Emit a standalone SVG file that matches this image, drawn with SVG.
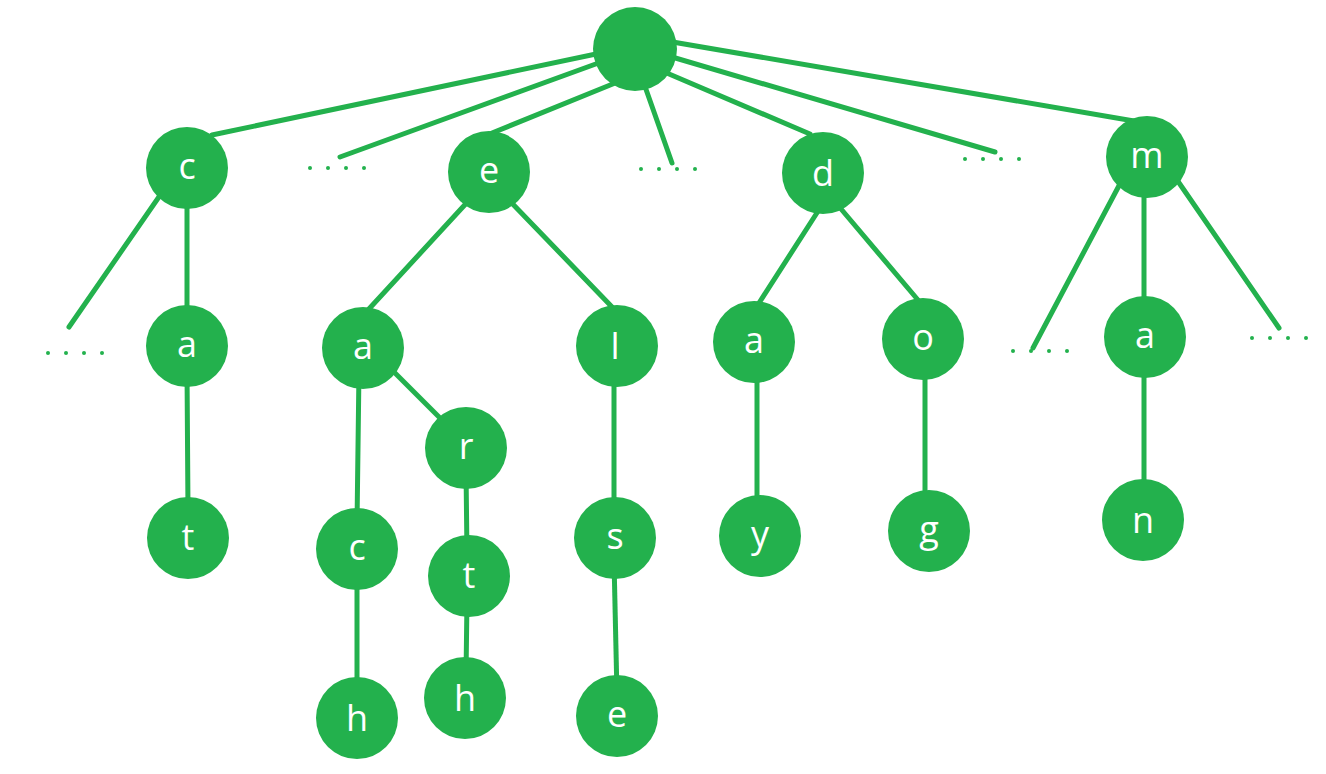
<svg xmlns="http://www.w3.org/2000/svg" width="1326" height="774" viewBox="0 0 1326 774">
<style>
.n{fill:#23B14D}
.e{stroke:#23B14D;stroke-width:5;stroke-linecap:round;fill:none}
.t{fill:#fff;font-family:"Open Sans","Noto Sans",sans-serif;font-size:36px;text-anchor:middle}
.d{fill:#23B14D}
</style>
<rect width="1326" height="774" fill="#fff"/>
<g id="connectors">
<line class="e" x1="615" y1="50" x2="212" y2="135"/>
<line class="e" x1="615" y1="57" x2="340" y2="157"/>
<line class="e" x1="625" y1="79" x2="492" y2="133"/>
<line class="e" x1="642" y1="78" x2="672" y2="163"/>
<line class="e" x1="655" y1="68" x2="810" y2="134"/>
<line class="e" x1="655" y1="52" x2="995" y2="152"/>
<line class="e" x1="655" y1="39" x2="1134" y2="121"/>
<line class="e" x1="163" y1="191" x2="69" y2="327"/>
<line class="e" x1="187" y1="190" x2="187" y2="320"/>
<line class="e" x1="187" y1="370" x2="188" y2="510"/>
<line class="e" x1="472" y1="197" x2="368" y2="310"/>
<line class="e" x1="506" y1="197" x2="613" y2="308"/>
<line class="e" x1="385" y1="363" x2="440" y2="418"/>
<line class="e" x1="359" y1="370" x2="357" y2="525"/>
<line class="e" x1="357" y1="570" x2="357" y2="695"/>
<line class="e" x1="466" y1="470" x2="467" y2="555"/>
<line class="e" x1="467" y1="600" x2="466" y2="675"/>
<line class="e" x1="614" y1="370" x2="614" y2="515"/>
<line class="e" x1="614" y1="560" x2="617" y2="695"/>
<line class="e" x1="822" y1="205" x2="759" y2="303"/>
<line class="e" x1="836" y1="203" x2="918" y2="300"/>
<line class="e" x1="757" y1="365" x2="757" y2="515"/>
<line class="e" x1="925" y1="362" x2="925" y2="510"/>
<line class="e" x1="1122" y1="180" x2="1033" y2="348"/>
<line class="e" x1="1144" y1="180" x2="1144" y2="315"/>
<line class="e" x1="1144" y1="360" x2="1144" y2="500"/>
<line class="e" x1="1175" y1="177" x2="1279" y2="328"/>
</g>
<g id="dots">
<circle class="d" cx="48" cy="353" r="2"/><circle class="d" cx="66" cy="353" r="2"/><circle class="d" cx="84" cy="353" r="2"/><circle class="d" cx="102" cy="353" r="2"/>
<circle class="d" cx="310" cy="168" r="2"/><circle class="d" cx="328" cy="168" r="2"/><circle class="d" cx="346" cy="168" r="2"/><circle class="d" cx="364" cy="168" r="2"/>
<circle class="d" cx="641" cy="169" r="2"/><circle class="d" cx="659" cy="169" r="2"/><circle class="d" cx="677" cy="169" r="2"/><circle class="d" cx="695" cy="169" r="2"/>
<circle class="d" cx="965" cy="159" r="2"/><circle class="d" cx="983" cy="159" r="2"/><circle class="d" cx="1001" cy="159" r="2"/><circle class="d" cx="1019" cy="159" r="2"/>
<circle class="d" cx="1013" cy="351" r="2"/><circle class="d" cx="1031" cy="351" r="2"/><circle class="d" cx="1049" cy="351" r="2"/><circle class="d" cx="1067" cy="351" r="2"/>
<circle class="d" cx="1252" cy="338" r="2"/><circle class="d" cx="1270" cy="338" r="2"/><circle class="d" cx="1288" cy="338" r="2"/><circle class="d" cx="1306" cy="338" r="2"/>
</g>
<g id="root"><circle class="n" cx="635" cy="49" r="42"/></g>
<g id="n-c"><circle class="n" cx="187" cy="168" r="41"/><text class="t" x="187" y="179">c</text></g>
<g id="n-ca"><circle class="n" cx="187" cy="346" r="41"/><text class="t" x="187" y="357">a</text></g>
<g id="n-cat"><circle class="n" cx="188" cy="538" r="41"/><text class="t" x="188" y="550">t</text></g>
<g id="n-e"><circle class="n" cx="489" cy="172" r="41"/><text class="t" x="489" y="183">e</text></g>
<g id="n-ea"><circle class="n" cx="363" cy="348" r="41"/><text class="t" x="363" y="359">a</text></g>
<g id="n-ear"><circle class="n" cx="466" cy="448" r="41"/><text class="t" x="466" y="459">r</text></g>
<g id="n-eart"><circle class="n" cx="469" cy="576" r="41"/><text class="t" x="469" y="588">t</text></g>
<g id="n-earth"><circle class="n" cx="465" cy="698" r="41"/><text class="t" x="465" y="711">h</text></g>
<g id="n-eac"><circle class="n" cx="357" cy="549" r="41"/><text class="t" x="357" y="560">c</text></g>
<g id="n-each"><circle class="n" cx="357" cy="718" r="41"/><text class="t" x="357" y="731">h</text></g>
<g id="n-el"><circle class="n" cx="617" cy="346" r="41"/><text class="t" x="615" y="359">l</text></g>
<g id="n-els"><circle class="n" cx="615" cy="538" r="41"/><text class="t" x="615" y="549">s</text></g>
<g id="n-else"><circle class="n" cx="617" cy="716" r="41"/><text class="t" x="617" y="727">e</text></g>
<g id="n-d"><circle class="n" cx="823" cy="173" r="41"/><text class="t" x="823" y="186">d</text></g>
<g id="n-da"><circle class="n" cx="754" cy="342" r="41"/><text class="t" x="754" y="353">a</text></g>
<g id="n-day"><circle class="n" cx="760" cy="536" r="41"/><text class="t" x="760" y="547">y</text></g>
<g id="n-do"><circle class="n" cx="923" cy="339" r="41"/><text class="t" x="923" y="350">o</text></g>
<g id="n-dog"><circle class="n" cx="929" cy="531" r="41"/><text class="t" x="929" y="542">g</text></g>
<g id="n-m"><circle class="n" cx="1147" cy="157" r="41"/><text class="t" x="1147" y="168">m</text></g>
<g id="n-ma"><circle class="n" cx="1145" cy="337" r="41"/><text class="t" x="1145" y="348">a</text></g>
<g id="n-man"><circle class="n" cx="1143" cy="520" r="41"/><text class="t" x="1143" y="533">n</text></g>
</svg>
